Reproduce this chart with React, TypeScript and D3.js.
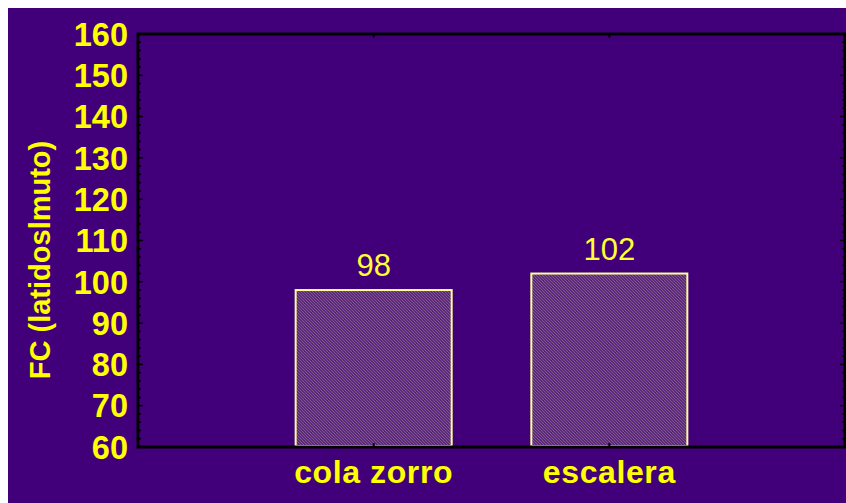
import React from "react";
import * as d3 from "d3";

// Heart rate by exercise
const categories: string[] = ["cola zorro", "escalera"];
const values: number[] = [98, 102];
const yTicks: number[] = [60, 70, 80, 90, 100, 110, 120, 130, 140, 150, 160];
const yLabel = "FC (latidoslmuto)";

const W = 838;
const H = 495;
// plot frame, in svg pixels
const left = 130;
const right = 837;
const top = 26;
const bottom = 439;

const BG = "#41007a";
const YELLOW = "#ffff00";

export default function App() {
  const x = d3.scalePoint<string>().domain(categories).range([left, right]).padding(1);
  const y = d3.scaleLinear().domain([60, 160]).range([bottom, top]);
  const step = x.step();
  const barW = step * 0.662;
  const minor = d3.range(60, 161, 2);
  const font = "Arial, 'Liberation Sans', Helvetica, sans-serif";

  return (
    <svg
      width={W}
      height={H}
      style={{ display: "block", position: "fixed", left: 8, top: 8 }}
      fontFamily={font}
    >
      <defs>
        <pattern id="hatch" patternUnits="userSpaceOnUse" width={3} height={3}>
          <rect width={3} height={3} fill="#5a2a7c" />
          <path d="M-1,-1 L4,4 M-1,2 L1,4 M2,-1 L4,1" stroke="#84548a" strokeWidth={1} />
        </pattern>
      </defs>
      <rect x={0} y={0} width={W} height={H} fill={BG} />

      {/* bars */}
      {categories.map((c, i) => {
        const cx = x(c) as number;
        return (
          <g key={c}>
            <rect
              x={cx - barW / 2}
              y={y(values[i])}
              width={barW}
              height={bottom - y(values[i]) - 1}
              fill="url(#hatch)"
              stroke="#ffff99"
              strokeWidth={2}
            />
            <text
              x={cx}
              y={y(values[i]) - 14}
              textAnchor="middle"
              fill="#ffff33"
              fontSize={31}
            >
              {values[i]}
            </text>
          </g>
        );
      })}

      {/* minor/major ticks on left and right, pointing inward */}
      {minor.map((v) => {
        const len = v % 10 === 0 ? 5 : 3;
        return (
          <g key={v} stroke="#000" strokeWidth={1.5}>
            <line x1={left} x2={left + len} y1={y(v)} y2={y(v)} />
            <line x1={right} x2={right - len} y1={y(v)} y2={y(v)} />
          </g>
        );
      })}
      {categories.map((c) => (
        <g key={c} stroke="#000" strokeWidth={2}>
          <line x1={x(c)} x2={x(c)} y1={bottom} y2={bottom - 4} />
          <line x1={x(c)} x2={x(c)} y1={top} y2={top + 4} />
        </g>
      ))}

      {/* frame */}
      <rect
        x={left}
        y={top}
        width={right - left}
        height={bottom - top}
        fill="none"
        stroke="#000"
        strokeWidth={3}
      />

      {/* y tick labels */}
      {yTicks.map((t) => (
        <text
          key={t}
          x={left - 10}
          y={y(t)}
          dy="0.36em"
          textAnchor="end"
          fill={YELLOW}
          fontSize={32.5}
          fontWeight="bold"
        >
          {t}
        </text>
      ))}

      {/* category labels */}
      {categories.map((c) => (
        <text
          key={c}
          x={x(c)}
          y={475}
          textAnchor="middle"
          fill={YELLOW}
          fontSize={32}
          fontWeight="bold"
          letterSpacing={0.6}
        >
          {c}
        </text>
      ))}

      {/* y axis title */}
      <text
        transform={`translate(42,${252}) rotate(-90)`}
        textAnchor="middle"
        fill={YELLOW}
        fontSize={29}
        fontWeight="bold"
      >
        {yLabel}
      </text>
    </svg>
  );
}
